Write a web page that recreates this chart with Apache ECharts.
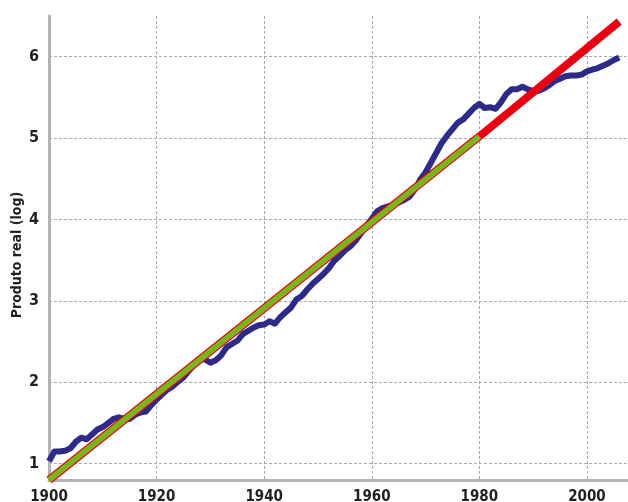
<!DOCTYPE html>
<html>
<head>
<meta charset="utf-8">
<script src="https://cdn.jsdelivr.net/npm/echarts@6/dist/echarts.min.js"></script>
<style>
  html, body { margin: 0; padding: 0; background: #fff; }
  #chart { width: 628px; height: 502px; }
</style>
</head>
<body>
<div id="chart"></div>
<script>
// produto real (log), anual
const firstYear = 1900
const produto = [
  1.03, 1.15, 1.15, 1.16, 1.19, 1.27, 1.32, 1.30, 1.36, 1.42,
  1.45, 1.50, 1.55, 1.57, 1.55, 1.55, 1.60, 1.63, 1.64, 1.72,
  1.79, 1.85, 1.91, 1.95, 2.01, 2.06, 2.14, 2.22, 2.29, 2.28,
  2.24, 2.27, 2.33, 2.43, 2.47, 2.51, 2.59, 2.63, 2.67, 2.70,
  2.71, 2.75, 2.72, 2.80, 2.86, 2.92, 3.02, 3.06, 3.14, 3.21,
  3.27, 3.33, 3.40, 3.49, 3.55, 3.62, 3.67, 3.74, 3.83, 3.92,
  4.01, 4.10, 4.14, 4.16, 4.18, 4.21, 4.24, 4.28, 4.37, 4.49,
  4.58, 4.70, 4.82, 4.94, 5.03, 5.11, 5.19, 5.23, 5.30, 5.37,
  5.42, 5.37, 5.38, 5.36, 5.44, 5.54, 5.60, 5.60, 5.63, 5.60,
  5.58, 5.58, 5.61, 5.65, 5.70, 5.73, 5.76, 5.77, 5.77, 5.78,
  5.82, 5.84, 5.86, 5.89, 5.92, 5.96, 5.99
]
// tendencia linear 1900-1980 e projeccao ate 2006
const trendYears = [1900, 1980]
const trendValues = [0.80, 5.02]
const projYears = [1900, 1980, 2006]
const projValues = [0.80, 5.02, 6.43]
const yTicks = [1, 2, 3, 4, 5, 6]
const xTicks = [1900, 1920, 1940, 1960, 1980, 2000]

const font = '"Liberation Sans Narrow", "DejaVu Sans Condensed", sans-serif'

const produtoData = produto.map((v, i) => [firstYear + i, v])
const trendData = trendYears.map((y, i) => [y, trendValues[i]])
const projData = projYears.map((y, i) => [y, projValues[i]])

const chart = echarts.init(document.getElementById('chart'), null, { renderer: 'canvas' })
const gridLine = { show: true, lineStyle: { color: '#aaaaaa', width: 1, type: [3, 2] } }

chart.setOption({
  animation: false,
  grid: { left: 49, right: -2, top: 16, bottom: 22, containLabel: false, outerBoundsMode: 'none' },
  xAxis: {
    type: 'value',
    min: 1900,
    max: 2008,
    axisLine: { show: true, lineStyle: { color: '#b3b3b3', width: 3 } },
    axisTick: { show: false, customValues: xTicks },
    axisLabel: {
      customValues: xTicks,
      formatter: v => String(v),
      margin: 10,
      fontFamily: font,
      fontSize: 15,
      fontWeight: 'bold',
      color: '#231f20'
    },
    splitLine: gridLine
  },
  yAxis: {
    type: 'value',
    min: 0.8,
    max: 6.5,
    name: 'Produto real (log)',
    nameLocation: 'middle',
    nameGap: 25,
    nameRotate: 90,
    nameMoveOverlap: false,
    nameTextStyle: { fontFamily: font, fontSize: 14, fontWeight: 'bold', color: '#231f20', padding: [0, 0, 0, -14] },
    axisLine: { show: true, lineStyle: { color: '#b3b3b3', width: 3 } },
    axisTick: { show: false, customValues: yTicks },
    axisLabel: {
      customValues: yTicks,
      margin: 10,
      fontFamily: font,
      fontSize: 16,
      fontWeight: 'bold',
      color: '#231f20'
    },
    splitLine: gridLine
  },
  series: [
    {
      type: 'line',
      data: produtoData,
      showSymbol: false,
      symbol: 'none',
      lineStyle: { color: '#2e2a88', width: 6, join: 'round' },
      z: 2
    },
    {
      type: 'line',
      data: projData,
      showSymbol: false,
      symbol: 'none',
      lineStyle: { color: '#e60012', width: 8 },
      z: 3
    },
    {
      type: 'line',
      data: trendData,
      showSymbol: false,
      symbol: 'none',
      lineStyle: { color: '#7ab51d', width: 6 },
      z: 4
    }
  ]
})
</script>
</body>
</html>
